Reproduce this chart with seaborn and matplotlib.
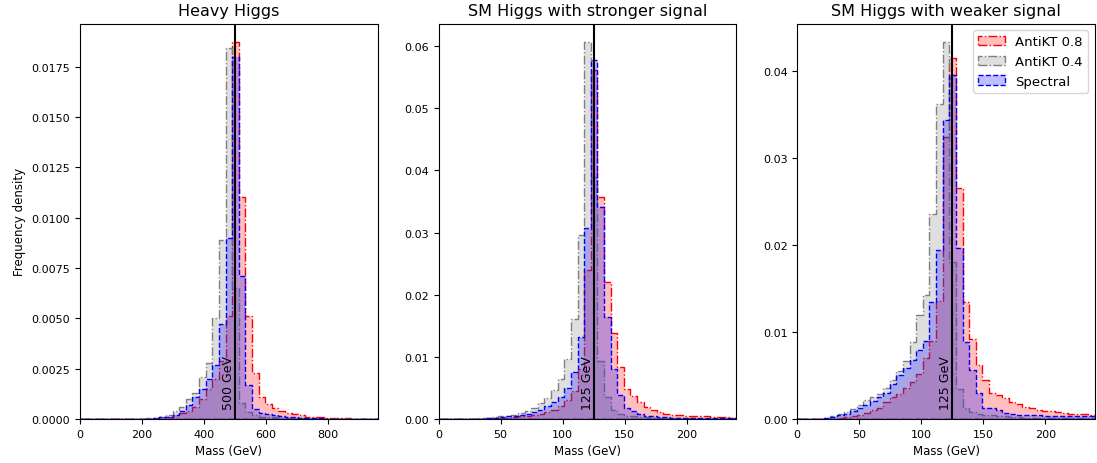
import matplotlib
matplotlib.use("Agg")
import matplotlib.pyplot as plt
import matplotlib.transforms as mtransforms
import numpy as np
import pandas as pd
import seaborn as sns

# binned frequency densities (45 bins per panel)
heavy_edges = np.linspace(0, 960, 46)
heavy_akt8 = [0, 0, 0, 0, 0, 0, 0, 0, 0, 0,
              0.00002, 0.00005, 0.0001, 0.0001, 0.0002, 0.0003, 0.0004, 0.0006, 0.0010, 0.0015,
              0.0020, 0.0029, 0.0051, 0.0187, 0.0110, 0.0051, 0.0023, 0.0011, 0.00075, 0.00052,
              0.0004, 0.0003, 0.00022, 0.00018, 0.00012, 0.0001, 0.00008, 0.00006, 0.00005, 0.00006,
              0.00005, 0.00002, 0.00001, 0, 0]
heavy_akt4 = [0, 0, 0, 0, 0, 0, 0, 0, 0, 0,
              0.00003, 0.00005, 0.0001, 0.0002, 0.0004, 0.0006, 0.0010, 0.0013, 0.0021, 0.0028,
              0.0050, 0.0089, 0.0184, 0.0065, 0.0008, 0.00035, 0.0002, 0.00012, 0.0001, 0.00008,
              0.00006, 0.00005, 0.00004, 0.00003, 0.00002, 0.00002, 0.00002, 0.00002, 0.00001, 0,
              0, 0, 0, 0, 0]
heavy_spec = [0, 0, 0, 0, 0, 0, 0, 0, 0, 0,
              0.00002, 0.00005, 0.0001, 0.0001, 0.0002, 0.0004, 0.0007, 0.0011, 0.0015, 0.0020,
              0.0027, 0.0047, 0.0090, 0.0180, 0.0071, 0.0017, 0.0005, 0.0003, 0.00025, 0.0002,
              0.00015, 0.0001, 0.00008, 0.00006, 0.00005, 0.00004, 0.00003, 0.00002, 0.00001, 0.00001,
              0, 0, 0, 0, 0]

sm_edges = np.linspace(0, 240, 46)
strong_akt8 = [0, 0, 0, 0, 0, 0, 0, 0.00005, 0.0001, 0.00015,
               0.0002, 0.0003, 0.0004, 0.0005, 0.0006, 0.0008, 0.0011, 0.0015, 0.0020, 0.0030,
               0.0045, 0.0081, 0.0240, 0.0561, 0.0357, 0.0220, 0.0138, 0.0083, 0.0048, 0.0037,
               0.0027, 0.0019, 0.0014, 0.0011, 0.0008, 0.0007, 0.0006, 0.0005, 0.0005, 0.0004,
               0.0004, 0.0003, 0.0003, 0.0003, 0.0002]
strong_akt4 = [0, 0, 0, 0, 0, 0.00005, 0.0001, 0.0002, 0.0003, 0.0004,
               0.0005, 0.0007, 0.0009, 0.0012, 0.0017, 0.0025, 0.0034, 0.0047, 0.0065, 0.0097,
               0.0161, 0.0296, 0.0606, 0.0390, 0.0094, 0.0036, 0.0015, 0.0008, 0.0005, 0.0004,
               0.0003, 0.0003, 0.0002, 0.0001, 0.0001, 0.0001, 0.0001, 0.0001, 0.0001, 0.00005,
               0.00005, 0.00005, 0.00005, 0.00005, 0.00005]
strong_spec = [0, 0, 0, 0, 0, 0, 0.00005, 0.0001, 0.0002, 0.0003,
               0.0004, 0.0005, 0.0006, 0.0008, 0.0011, 0.0015, 0.0020, 0.0027, 0.0036, 0.0050,
               0.0076, 0.0132, 0.0307, 0.0577, 0.0341, 0.0164, 0.0081, 0.0039, 0.0018, 0.0012,
               0.0008, 0.0005, 0.0004, 0.0003, 0.0003, 0.0002, 0.0002, 0.0002, 0.0001, 0.0001,
               0.0001, 0.0001, 0.0001, 0.0001, 0.0001]

weak_akt8 = [0, 0, 0, 0, 0, 0, 0.0001, 0.0002, 0.0003, 0.0005,
             0.0007, 0.0010, 0.0013, 0.0020, 0.0025, 0.0029, 0.0035, 0.0042, 0.0052, 0.0070,
             0.0090, 0.0136, 0.0324, 0.0415, 0.0266, 0.0135, 0.0092, 0.0062, 0.0045, 0.0030,
             0.0027, 0.0024, 0.0020, 0.0017, 0.0014, 0.0012, 0.0010, 0.0009, 0.0009, 0.0008,
             0.0007, 0.0006, 0.0006, 0.0006, 0.0005]
weak_akt4 = [0, 0, 0, 0, 0.0001, 0.0003, 0.0006, 0.0008, 0.0011, 0.0016,
             0.0022, 0.0025, 0.0029, 0.0036, 0.0045, 0.0055, 0.0067, 0.0088, 0.0119, 0.0143,
             0.0236, 0.0362, 0.0433, 0.0180, 0.0034, 0.0012, 0.0008, 0.0006, 0.0005, 0.0004,
             0.0003, 0.0003, 0.0002, 0.0002, 0.0001, 0.0001, 0.0001, 0.0001, 0.0001, 0.0001,
             0.0001, 0.0001, 0.0001, 0.0001, 0.0001]
weak_spec = [0, 0, 0, 0, 0.0001, 0.0002, 0.0004, 0.0006, 0.0009, 0.0012,
             0.0016, 0.0021, 0.0025, 0.0030, 0.0040, 0.0050, 0.0058, 0.0068, 0.0079, 0.0090,
             0.0135, 0.0194, 0.0344, 0.0395, 0.0197, 0.0089, 0.0056, 0.0030, 0.0013, 0.0012,
             0.0010, 0.0007, 0.0006, 0.0005, 0.0005, 0.0004, 0.0004, 0.0003, 0.0003, 0.0003,
             0.0003, 0.0003, 0.0003, 0.0003, 0.0003]

titles = ["Heavy Higgs", "SM Higgs with stronger signal", "SM Higgs with weaker signal"]
true_mass = [500, 125, 125]
mass_labels = ["500 GeV", "125 GeV", "125 GeV"]
labels = ["AntiKT 0.8", "AntiKT 0.4", "Spectral"]
colors = ["red", "grey", "blue"]
styles = ["-.", "-.", "--"]

panels = [
    (heavy_edges, [heavy_akt8, heavy_akt4, heavy_spec]),
    (sm_edges, [strong_akt8, strong_akt4, strong_spec]),
    (sm_edges, [weak_akt8, weak_akt4, weak_spec]),
]

plt.rcParams["font.size"] = 8

fig, axes = plt.subplots(1, 3, figsize=(10.97, 4.64), dpi=100)
fig.subplots_adjust(left=0.073, right=0.998, top=0.947, bottom=0.095, wspace=0.205)

for i, ax in enumerate(axes):
    edges, series = panels[i]
    centers = (edges[:-1] + edges[1:]) / 2
    for heights, label, color, ls in zip(series, labels, colors, styles):
        df = pd.DataFrame({"mass": centers, "density": heights})
        sns.histplot(data=df, x="mass", weights="density", bins=list(edges),
                     element="step", fill=True, color=color, alpha=0.25,
                     linestyle=ls, linewidth=1.0, label=label, ax=ax)
    ax.axvline(true_mass[i], color="black", linewidth=1.5)
    trans = mtransforms.blended_transform_factory(ax.transData, ax.transAxes)
    ax.text(true_mass[i], 0.025, mass_labels[i], rotation=90, ha="right", va="bottom",
            fontsize=9, transform=trans)
    ax.set_xlim(edges[0], edges[-1])
    ax.set_title(titles[i], fontsize=11.5)
    ax.set_xlabel("Mass (GeV)", fontsize=8.5)
    ax.set_ylabel("")

axes[0].set_ylabel("Frequency density", fontsize=8.5)
axes[2].legend(loc="upper right", fontsize=9.5)

plt.savefig("out.png", dpi=100)
